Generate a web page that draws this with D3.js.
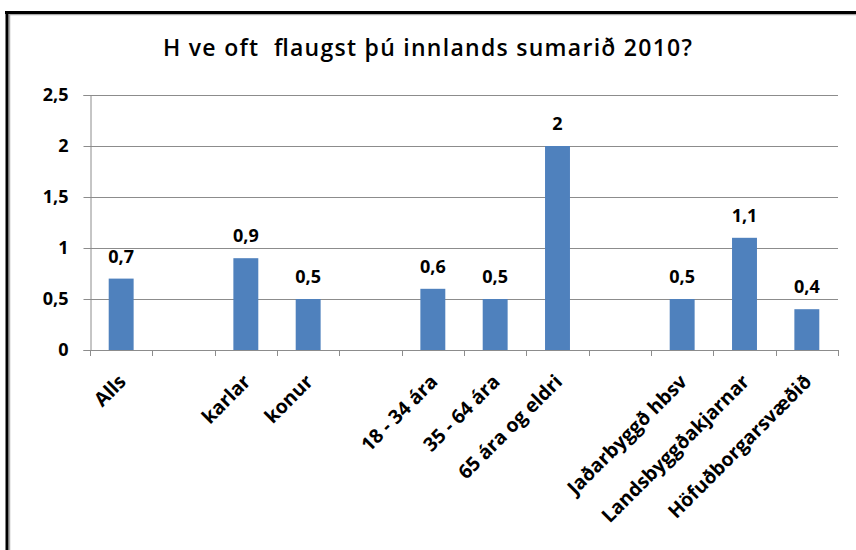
<!DOCTYPE html>
<html>
<head>
<meta charset="utf-8">
<script src="https://cdn.jsdelivr.net/npm/d3@7"></script>
<style>
  body { margin: 0; background: #fff; }
  text { font-family: "Open Sans", "Liberation Sans", sans-serif; fill: #000; }
</style>
</head>
<body>
<div id="chart"></div>
<script>
// chart data
var categories = ["Alls", "", "karlar", "konur", " ", "18 - 34 ára", "35 - 64 ára", "65 ára og eldri", "  ", "Jaðarbyggð hbsv", "Landsbyggðakjarnar", "Höfuðborgarsvæðið"];
var values = [0.7, null, 0.9, 0.5, null, 0.6, 0.5, 2, null, 0.5, 1.1, 0.4];
var yTicks = [0, 0.5, 1, 1.5, 2, 2.5];
var title = "H ve oft  flaugst þú innlands sumarið 2010?";

var W = 856, H = 550;
var margin = {top: 95, right: 18, bottom: 200, left: 90};
var width = W - margin.left - margin.right,
    height = H - margin.top - margin.bottom;

var svg = d3.select("#chart").append("svg")
    .attr("width", W)
    .attr("height", H);

// frame (top and left edges only, like the source picture)
svg.append("line").attr("x1", 9).attr("x2", W).attr("y1", 14.5).attr("y2", 14.5)
    .attr("stroke", "#aaa").attr("stroke-width", 1.5);
svg.append("line").attr("x1", 9.5).attr("x2", 9.5).attr("y1", 13).attr("y2", H)
    .attr("stroke", "#aaa").attr("stroke-width", 1.5);
svg.append("line").attr("x1", 5).attr("x2", W).attr("y1", 12.5).attr("y2", 12.5)
    .attr("stroke", "#000").attr("stroke-width", 3);
svg.append("line").attr("x1", 7).attr("x2", 7).attr("y1", 11).attr("y2", H)
    .attr("stroke", "#000").attr("stroke-width", 3);

svg.append("text")
    .attr("x", 163).attr("y", 56)
    .attr("textLength", 529)
    .attr("lengthAdjust", "spacing")
    .style("white-space", "pre")
    .style("font-size", "23px")
    .style("font-weight", "600")
    .text(title);

var g = svg.append("g").attr("transform", "translate(" + margin.left + "," + margin.top + ")");

var x = d3.scaleBand().domain(categories).range([0, width]).paddingInner(0.6).paddingOuter(0.3);
var y = d3.scaleLinear().domain([0, 2.5]).range([height, 0]);

// gridlines
g.selectAll(".grid").data(yTicks).enter().append("line")
    .attr("x1", 0).attr("x2", width)
    .attr("y1", function(d) { return Math.round(y(d)) + 0.5; })
    .attr("y2", function(d) { return Math.round(y(d)) + 0.5; })
    .attr("stroke", "#8c8c8c");

// y axis
var yAxis = g.append("g")
    .attr("transform", "translate(0.5,0)")
    .call(d3.axisLeft(y).tickValues(yTicks).tickSize(7).tickPadding(15)
        .tickFormat(function(d) { return String(d).replace(".", ","); }));
yAxis.select(".domain").attr("stroke", "#8c8c8c");
yAxis.selectAll(".tick line").attr("stroke", "#8c8c8c");
yAxis.selectAll("text").style("font-size", "18px").style("font-weight", "bold")
    .style("font-family", "'Open Sans', sans-serif");

// x axis ticks at slot boundaries
var bounds = d3.range(categories.length + 1);
var xs = d3.scaleLinear().domain([0, categories.length]).range([0, width]);
g.append("line").attr("x1", 0).attr("x2", width)
    .attr("y1", height + 0.5).attr("y2", height + 0.5).attr("stroke", "#8c8c8c");
g.selectAll(".xtick").data(bounds).enter().append("line")
    .attr("x1", function(d) { return Math.round(xs(d)) + 0.5; })
    .attr("x2", function(d) { return Math.round(xs(d)) + 0.5; })
    .attr("y1", height).attr("y2", height + 6)
    .attr("stroke", "#8c8c8c");

var data = categories.map(function(c, i) { return {cat: c, v: values[i]}; });

// bars
g.selectAll(".bar").data(data.filter(function(d) { return d.v != null; })).enter().append("rect")
    .attr("x", function(d) { return x(d.cat); })
    .attr("y", function(d) { return y(d.v); })
    .attr("width", x.bandwidth())
    .attr("height", function(d) { return height - y(d.v); })
    .attr("fill", "#4f81bd");

// value labels
g.selectAll(".lbl").data(data.filter(function(d) { return d.v != null; })).enter().append("text")
    .attr("x", function(d) { return x(d.cat) + x.bandwidth() / 2; })
    .attr("y", function(d) { return y(d.v) - 16; })
    .attr("text-anchor", "middle")
    .style("font-size", "18px")
    .style("font-weight", "bold")
    .text(function(d) { return String(d.v).replace(".", ","); });

// category labels
g.selectAll(".cat").data(data.filter(function(d) { return d.cat.trim() != ""; })).enter().append("text")
    .attr("transform", function(d) {
        return "translate(" + (x(d.cat) + x.bandwidth() / 2 + 6) + "," + (height + 33) + ") rotate(-45)";
    })
    .attr("text-anchor", "end")
    .style("font-size", "19.5px")
    .style("font-weight", "bold")
    .text(function(d) { return d.cat; });
</script>
</body>
</html>
